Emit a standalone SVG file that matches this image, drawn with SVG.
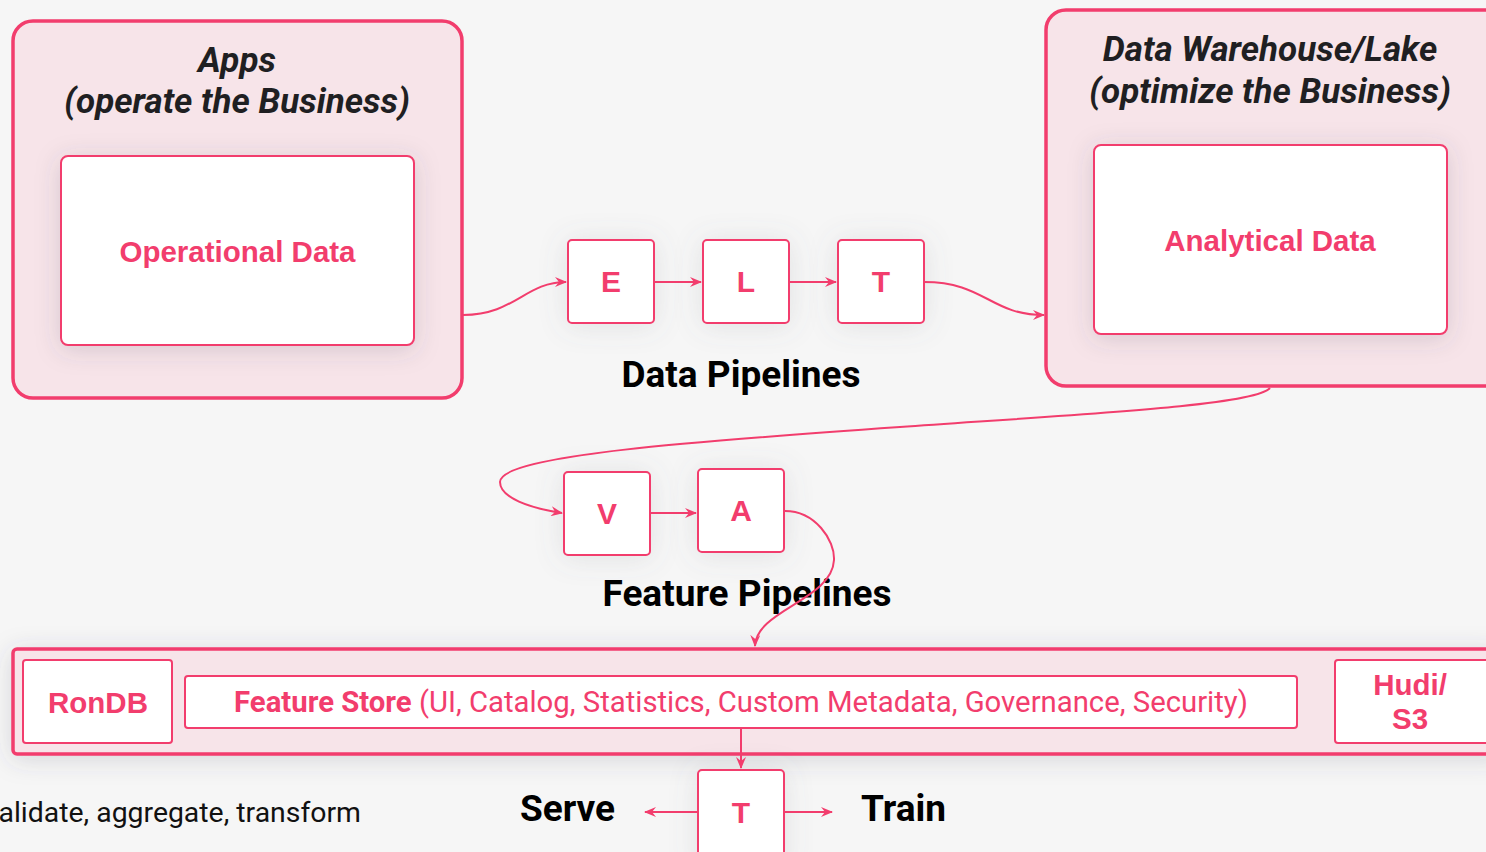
<svg xmlns="http://www.w3.org/2000/svg" width="1486" height="852" viewBox="0 0 1486 852">
  <defs>
    <filter id="soft" x="-30%" y="-30%" width="160%" height="160%">
      <feDropShadow dx="0" dy="4" stdDeviation="12" flood-color="#4a4a5a" flood-opacity="0.18"/>
    </filter>
    <filter id="halo" x="-40%" y="-40%" width="180%" height="180%">
      <feDropShadow dx="0" dy="2" stdDeviation="14" flood-color="#6a7078" flood-opacity="0.16"/>
    </filter>
    <marker id="arrow" viewBox="0 0 12 10" refX="11" refY="5" markerWidth="12" markerHeight="10" markerUnits="userSpaceOnUse" orient="auto">
      <path d="M0,0 L12,5 L0,10 L4,5 Z" fill="#f23d6d"/>
    </marker>
    <style>
      .outer { fill: #f7e4e9; stroke: #f23d6d; stroke-width: 3.5; }
      .inner { fill: #ffffff; stroke: #f23d6d; stroke-width: 2; }
      .step  { fill: #ffffff; stroke: #f23d6d; stroke-width: 2; }
      .title { font-family: Roboto, "Liberation Sans", sans-serif; font-weight: 700; font-style: italic; font-size: 35px; fill: #1f1f22; text-anchor: middle; }
      .data  { font-family: "Liberation Sans", Arial, sans-serif; font-weight: 700; font-size: 29.5px; fill: #f23d6d; text-anchor: middle; }
      .letter { font-family: "Liberation Sans", Arial, sans-serif; font-weight: 700; font-size: 30px; fill: #f23d6d; text-anchor: middle; }
      .caption { font-family: Roboto, "Liberation Sans", sans-serif; font-weight: 700; font-size: 37px; fill: #000000; }
      .store { font-family: Roboto, "Liberation Sans", sans-serif; font-size: 29.3px; fill: #f23d6d; }
      .box-label { font-family: "Liberation Sans", Arial, sans-serif; font-weight: 700; font-size: 29.5px; fill: #f23d6d; text-anchor: middle; }
      .conn { fill: none; stroke: #f23d6d; stroke-width: 2; marker-end: url(#arrow); }
    </style>
  </defs>

  <rect x="0" y="0" width="1486" height="852" fill="#f6f6f6"/>

  <!-- Operational side -->
  <g id="apps">
    <rect class="outer" x="13" y="21" width="449" height="377" rx="20"/>
    <text class="title" x="237" y="72">Apps</text>
    <text class="title" x="237" y="113">(operate the Business)</text>
    <rect class="inner" x="61" y="156" width="353" height="189" rx="7" filter="url(#soft)"/>
    <text class="data" x="237.5" y="262">Operational Data</text>
  </g>

  <!-- Analytical side -->
  <g id="warehouse">
    <rect class="outer" x="1046" y="10" width="460" height="376" rx="20"/>
    <text class="title" x="1270" y="61">Data Warehouse/Lake</text>
    <text class="title" x="1270" y="103">(optimize the Business)</text>
    <rect class="inner" x="1094" y="145" width="353" height="189" rx="7" filter="url(#soft)"/>
    <text class="data" x="1270" y="251">Analytical Data</text>
  </g>

  <!-- ELT data pipeline -->
  <g id="step-e">
    <rect class="step" x="568" y="240" width="86" height="83" rx="4" filter="url(#halo)"/>
    <text class="letter" x="611" y="292">E</text>
  </g>
  <g id="step-l">
    <rect class="step" x="703" y="240" width="86" height="83" rx="4" filter="url(#halo)"/>
    <text class="letter" x="746" y="292">L</text>
  </g>
  <g id="step-t1">
    <rect class="step" x="838" y="240" width="86" height="83" rx="4" filter="url(#halo)"/>
    <text class="letter" x="881" y="292">T</text>
  </g>
  <g id="data-pipelines-label">
    <text class="caption" x="741" y="387" text-anchor="middle">Data Pipelines</text>
  </g>

  <!-- Feature pipeline -->
  <g id="step-v">
    <rect class="step" x="564" y="472" width="86" height="83" rx="4" filter="url(#halo)"/>
    <text class="letter" x="607" y="524">V</text>
  </g>
  <g id="step-a">
    <rect class="step" x="698" y="469" width="86" height="83" rx="4" filter="url(#halo)"/>
    <text class="letter" x="741" y="521">A</text>
  </g>
  <g id="feature-pipelines-label">
    <text class="caption" x="747" y="606" text-anchor="middle">Feature Pipelines</text>
  </g>

  <!-- Feature store band -->
  <g id="feature-store">
    <rect class="outer" x="13" y="649" width="1490" height="105" rx="4" filter="url(#soft)"/>
    <rect class="inner" x="23" y="660" width="149" height="83" rx="3"/>
    <text class="box-label" x="98" y="713">RonDB</text>
    <rect class="inner" x="185" y="676" width="1112" height="52" rx="3"/>
    <text class="store" x="741" y="712" text-anchor="middle"><tspan font-weight="700">Feature Store</tspan> (UI, Catalog, Statistics, Custom Metadata, Governance, Security)</text>
    <rect class="inner" x="1335" y="660" width="160" height="83" rx="3"/>
    <text class="box-label" x="1410" y="695">Hudi/</text>
    <text class="box-label" x="1410" y="729">S3</text>
  </g>

  <!-- Transformation before serving/training -->
  <g id="step-t2">
    <rect class="step" x="698" y="770" width="86" height="100" rx="4" filter="url(#halo)"/>
    <text class="letter" x="741" y="823">T</text>
  </g>
  <g id="serve-label">
    <text class="caption" x="615" y="821" text-anchor="end">Serve</text>
  </g>
  <g id="train-label">
    <text class="caption" x="861" y="821">Train</text>
  </g>
  <g id="legend">
    <text x="361" y="822" text-anchor="end" font-family="Roboto, 'Liberation Sans', sans-serif" font-size="28.4" fill="#111111">alidate, aggregate, transform</text>
  </g>

  <!-- Connectors -->
  <g id="connectors">
    <path class="conn" d="M463,315 C515,315 525,282 566,282"/>
    <path class="conn" d="M654,282 L701,282"/>
    <path class="conn" d="M789,282 L836,282"/>
    <path class="conn" d="M924,282 C985,282 990,315 1044,315"/>
    <path class="conn" d="M1270,388 C1255,405 1100,413 900,427 C700,441 500,455 500,482 C500,498 530,508 562,513"/>
    <path class="conn" d="M650,513 L696,513"/>
    <path class="conn" d="M785,511 C815,511 835,540 834,560 C832,600 756,610 755,646"/>
    <path class="conn" d="M741,728 L741,768"/>
    <path class="conn" d="M697,812 L645,812"/>
    <path class="conn" d="M784,812 L832,812"/>
  </g>
</svg>
